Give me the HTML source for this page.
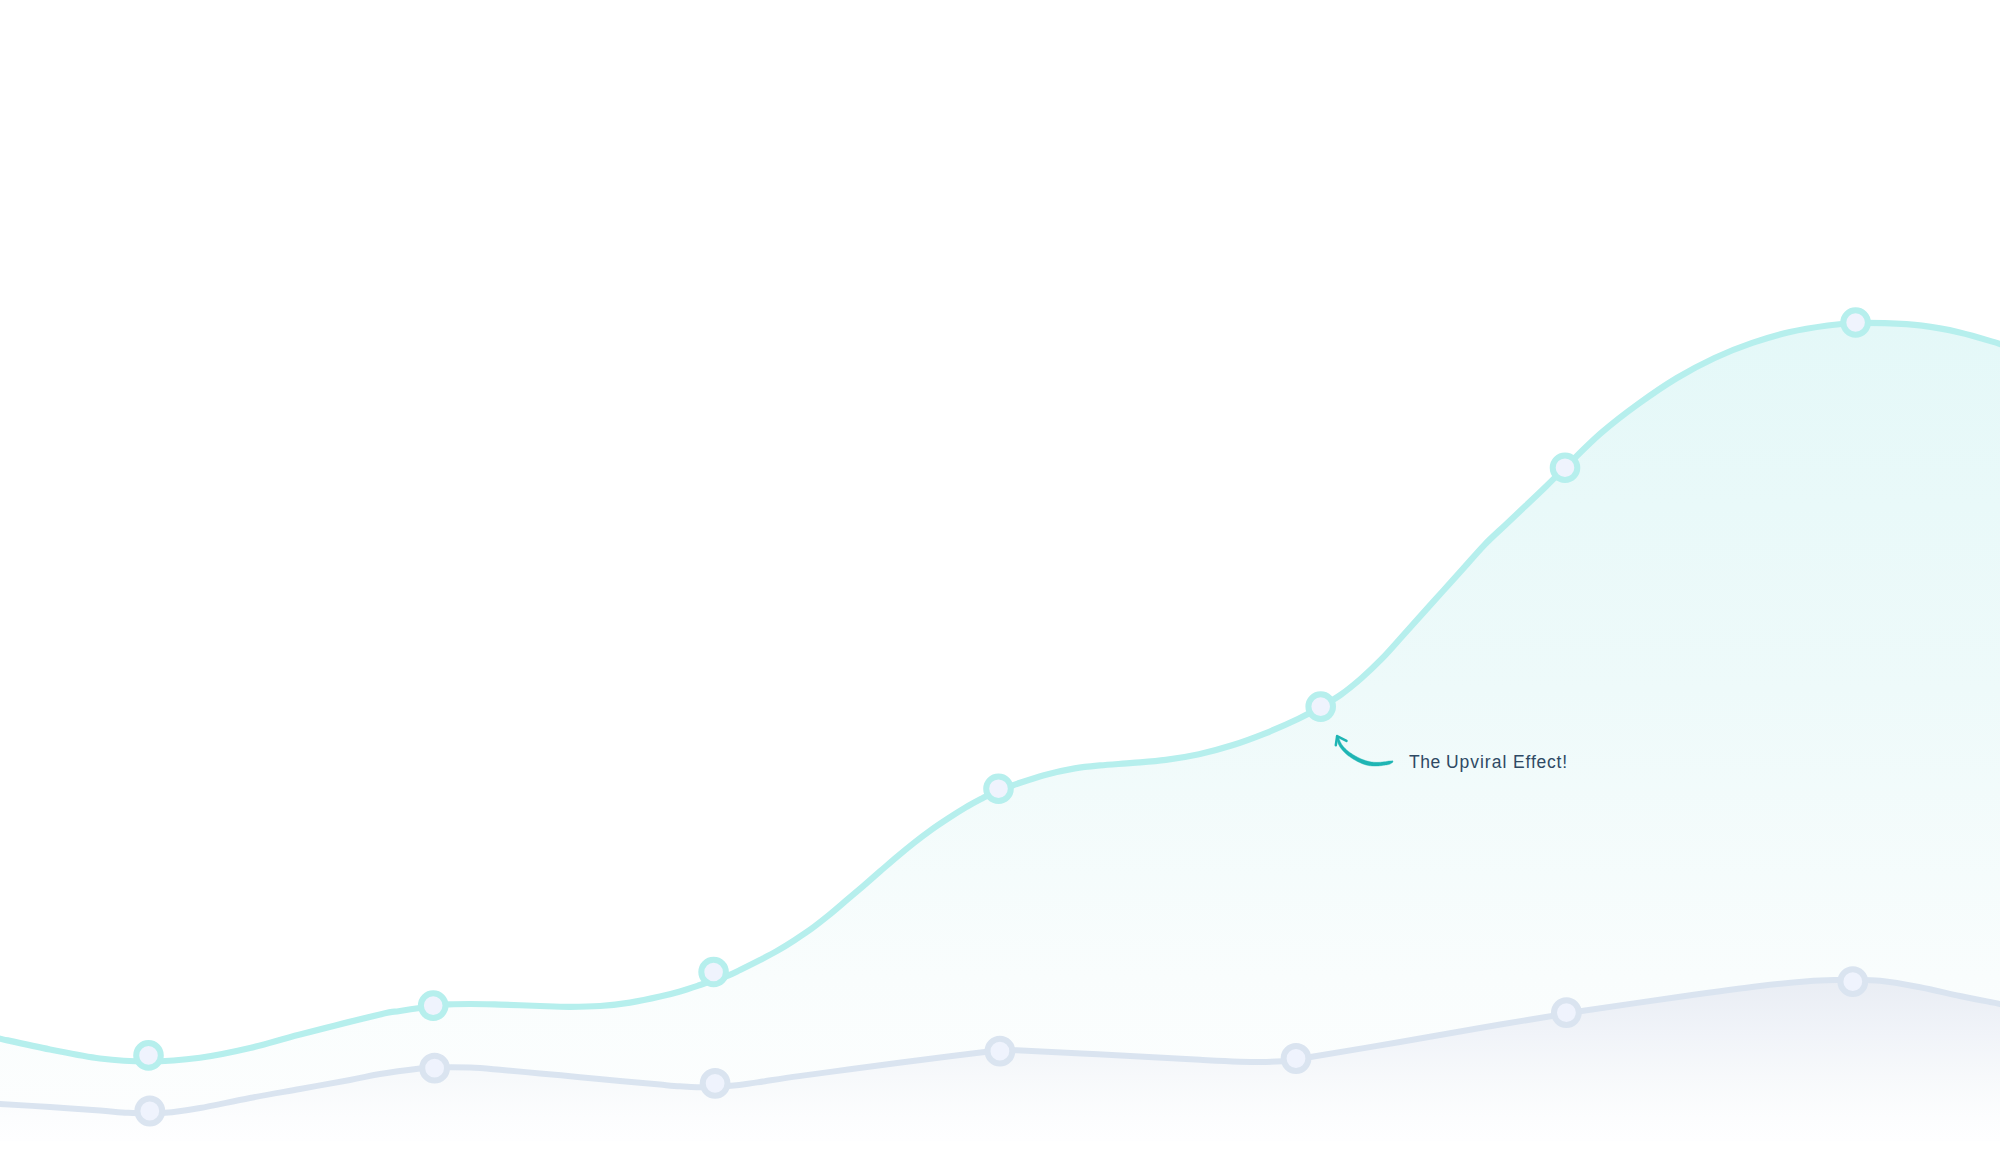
<!DOCTYPE html>
<html lang="en"><head><meta charset="utf-8"><title>The Upviral Effect</title>
<style>
html,body{margin:0;padding:0;background:#fff;}
body{width:2000px;height:1167px;position:relative;overflow:hidden;font-family:"Liberation Sans",sans-serif;}
.label{position:absolute;left:1409px;top:750px;font-size:17.5px;line-height:24px;color:#2e4964;white-space:pre;}
.label span{display:inline-block;white-space:pre;}
.w1{letter-spacing:0.48px;}.w2{letter-spacing:0.98px;}.w3{letter-spacing:0.78px;}
</style></head><body>
<svg width="2000" height="1141" viewBox="0 0 2000 1141" style="position:absolute;left:0;top:0;display:block">
<defs>
<linearGradient id="tg" gradientUnits="userSpaceOnUse" x1="0" y1="320" x2="0" y2="1141">
<stop offset="0" stop-color="#e4f8f8"/><stop offset="0.45" stop-color="#eefafa"/><stop offset="0.8" stop-color="#f9fdfd"/><stop offset="1" stop-color="#fdfefe"/>
</linearGradient>
<linearGradient id="gg" gradientUnits="userSpaceOnUse" x1="0" y1="980" x2="0" y2="1141">
<stop offset="0" stop-color="#e9edf4"/><stop offset="0.35" stop-color="#f1f4f9"/><stop offset="0.6" stop-color="#f7f9fb"/><stop offset="0.85" stop-color="#fcfdfe"/><stop offset="1" stop-color="#fefeff"/>
</linearGradient>
</defs>
<path d="M-10.0,1036.5 C-8.3,1036.9 -10.0,1036.5 0.0,1038.7 C10.0,1040.9 33.3,1046.2 50.0,1049.5 C66.7,1052.8 83.7,1056.5 100.0,1058.5 C116.3,1060.5 131.3,1061.6 148.0,1061.5 C164.7,1061.4 183.0,1060.0 200.0,1057.7 C217.0,1055.5 233.3,1051.9 250.0,1048.0 C266.7,1044.1 278.3,1040.1 300.0,1034.5 C321.7,1028.9 363.3,1018.3 380.0,1014.4 C396.7,1010.5 391.2,1012.4 400.0,1011.0 C408.8,1009.6 424.8,1007.1 433.0,1006.0 C441.2,1004.9 442.8,1004.7 449.0,1004.4 C455.2,1004.1 461.5,1004.0 470.0,1004.0 C478.5,1004.0 488.3,1004.3 500.0,1004.6 C511.7,1004.9 528.3,1005.6 540.0,1006.0 C551.7,1006.4 560.0,1006.8 570.0,1006.8 C580.0,1006.8 590.0,1006.7 600.0,1006.0 C610.0,1005.3 620.0,1004.2 630.0,1002.6 C640.0,1001.0 651.7,998.5 660.0,996.6 C668.3,994.7 673.3,993.3 680.0,991.4 C686.7,989.5 694.3,986.9 700.0,985.0 C705.7,983.1 709.3,981.6 714.0,980.0 C718.7,978.4 723.7,977.3 728.0,975.6 C732.3,973.9 734.7,972.6 740.0,970.0 C745.3,967.4 753.8,963.2 760.0,960.0 C766.2,956.8 771.4,954.2 777.1,950.9 C782.8,947.6 788.6,944.0 794.3,940.3 C800.0,936.6 805.7,932.9 811.4,928.8 C817.1,924.6 822.9,920.0 828.6,915.4 C834.3,910.8 840.0,905.8 845.7,900.9 C851.4,896.0 857.2,891.2 862.9,886.3 C868.6,881.4 874.3,876.3 880.0,871.4 C885.7,866.5 891.5,861.4 897.2,856.6 C902.9,851.8 908.6,847.1 914.3,842.6 C920.0,838.1 925.7,833.8 931.4,829.7 C937.1,825.6 942.9,821.8 948.6,818.1 C954.3,814.4 960.0,810.8 965.7,807.4 C971.4,804.0 977.4,800.9 982.9,798.0 C988.4,795.1 993.5,792.4 998.5,790.3 C1003.5,788.2 1005.5,787.7 1013.1,785.2 C1020.7,782.7 1033.7,778.0 1044.0,775.2 C1054.3,772.4 1065.5,770.0 1074.8,768.4 C1084.1,766.8 1090.3,766.3 1100.0,765.4 C1109.7,764.5 1121.7,763.8 1132.7,762.9 C1143.7,762.0 1154.8,761.3 1165.8,759.9 C1176.8,758.5 1187.9,756.6 1199.0,754.2 C1210.1,751.8 1221.2,748.8 1232.2,745.3 C1243.2,741.8 1254.2,737.7 1265.3,733.3 C1276.3,728.9 1289.3,723.1 1298.5,718.7 C1307.7,714.3 1313.7,711.0 1320.7,707.0 C1327.7,703.0 1333.9,699.6 1340.6,694.9 C1347.3,690.1 1354.2,684.5 1361.1,678.5 C1367.9,672.5 1374.8,665.9 1381.7,658.9 C1388.6,651.9 1395.5,643.8 1402.3,636.2 C1409.1,628.6 1415.9,621.0 1422.8,613.4 C1429.7,605.8 1436.5,598.1 1443.4,590.5 C1450.3,582.9 1457.2,575.2 1464.0,567.6 C1470.8,560.0 1477.7,551.9 1484.5,544.8 C1491.3,537.7 1498.2,531.7 1505.1,525.2 C1512.0,518.7 1518.8,512.2 1525.7,505.7 C1532.6,499.2 1539.7,492.5 1546.2,486.2 C1552.8,479.9 1555.8,476.6 1565.0,467.7 C1574.2,458.8 1589.1,443.4 1601.5,432.7 C1613.9,422.0 1626.6,412.4 1639.2,403.3 C1651.8,394.2 1664.3,385.6 1676.9,378.0 C1689.5,370.4 1702.0,363.9 1714.6,358.0 C1727.2,352.1 1739.7,347.2 1752.3,342.9 C1764.9,338.6 1777.4,334.9 1790.0,332.0 C1802.6,329.1 1816.8,327.0 1827.7,325.5 C1838.6,324.0 1846.2,323.4 1855.6,323.0 C1865.0,322.6 1873.2,322.8 1884.2,323.2 C1895.2,323.6 1909.3,324.1 1921.9,325.7 C1934.5,327.2 1946.6,329.5 1959.6,332.5 C1972.6,335.5 1991.6,341.5 2000.0,343.9 C2008.4,346.3 2008.3,346.5 2010.0,347.0 L2010,1141 L-10,1141 Z" fill="url(#tg)"/>
<path d="M-10.0,1036.5 C-8.3,1036.9 -10.0,1036.5 0.0,1038.7 C10.0,1040.9 33.3,1046.2 50.0,1049.5 C66.7,1052.8 83.7,1056.5 100.0,1058.5 C116.3,1060.5 131.3,1061.6 148.0,1061.5 C164.7,1061.4 183.0,1060.0 200.0,1057.7 C217.0,1055.5 233.3,1051.9 250.0,1048.0 C266.7,1044.1 278.3,1040.1 300.0,1034.5 C321.7,1028.9 363.3,1018.3 380.0,1014.4 C396.7,1010.5 391.2,1012.4 400.0,1011.0 C408.8,1009.6 424.8,1007.1 433.0,1006.0 C441.2,1004.9 442.8,1004.7 449.0,1004.4 C455.2,1004.1 461.5,1004.0 470.0,1004.0 C478.5,1004.0 488.3,1004.3 500.0,1004.6 C511.7,1004.9 528.3,1005.6 540.0,1006.0 C551.7,1006.4 560.0,1006.8 570.0,1006.8 C580.0,1006.8 590.0,1006.7 600.0,1006.0 C610.0,1005.3 620.0,1004.2 630.0,1002.6 C640.0,1001.0 651.7,998.5 660.0,996.6 C668.3,994.7 673.3,993.3 680.0,991.4 C686.7,989.5 694.3,986.9 700.0,985.0 C705.7,983.1 709.3,981.6 714.0,980.0 C718.7,978.4 723.7,977.3 728.0,975.6 C732.3,973.9 734.7,972.6 740.0,970.0 C745.3,967.4 753.8,963.2 760.0,960.0 C766.2,956.8 771.4,954.2 777.1,950.9 C782.8,947.6 788.6,944.0 794.3,940.3 C800.0,936.6 805.7,932.9 811.4,928.8 C817.1,924.6 822.9,920.0 828.6,915.4 C834.3,910.8 840.0,905.8 845.7,900.9 C851.4,896.0 857.2,891.2 862.9,886.3 C868.6,881.4 874.3,876.3 880.0,871.4 C885.7,866.5 891.5,861.4 897.2,856.6 C902.9,851.8 908.6,847.1 914.3,842.6 C920.0,838.1 925.7,833.8 931.4,829.7 C937.1,825.6 942.9,821.8 948.6,818.1 C954.3,814.4 960.0,810.8 965.7,807.4 C971.4,804.0 977.4,800.9 982.9,798.0 C988.4,795.1 993.5,792.4 998.5,790.3 C1003.5,788.2 1005.5,787.7 1013.1,785.2 C1020.7,782.7 1033.7,778.0 1044.0,775.2 C1054.3,772.4 1065.5,770.0 1074.8,768.4 C1084.1,766.8 1090.3,766.3 1100.0,765.4 C1109.7,764.5 1121.7,763.8 1132.7,762.9 C1143.7,762.0 1154.8,761.3 1165.8,759.9 C1176.8,758.5 1187.9,756.6 1199.0,754.2 C1210.1,751.8 1221.2,748.8 1232.2,745.3 C1243.2,741.8 1254.2,737.7 1265.3,733.3 C1276.3,728.9 1289.3,723.1 1298.5,718.7 C1307.7,714.3 1313.7,711.0 1320.7,707.0 C1327.7,703.0 1333.9,699.6 1340.6,694.9 C1347.3,690.1 1354.2,684.5 1361.1,678.5 C1367.9,672.5 1374.8,665.9 1381.7,658.9 C1388.6,651.9 1395.5,643.8 1402.3,636.2 C1409.1,628.6 1415.9,621.0 1422.8,613.4 C1429.7,605.8 1436.5,598.1 1443.4,590.5 C1450.3,582.9 1457.2,575.2 1464.0,567.6 C1470.8,560.0 1477.7,551.9 1484.5,544.8 C1491.3,537.7 1498.2,531.7 1505.1,525.2 C1512.0,518.7 1518.8,512.2 1525.7,505.7 C1532.6,499.2 1539.7,492.5 1546.2,486.2 C1552.8,479.9 1555.8,476.6 1565.0,467.7 C1574.2,458.8 1589.1,443.4 1601.5,432.7 C1613.9,422.0 1626.6,412.4 1639.2,403.3 C1651.8,394.2 1664.3,385.6 1676.9,378.0 C1689.5,370.4 1702.0,363.9 1714.6,358.0 C1727.2,352.1 1739.7,347.2 1752.3,342.9 C1764.9,338.6 1777.4,334.9 1790.0,332.0 C1802.6,329.1 1816.8,327.0 1827.7,325.5 C1838.6,324.0 1846.2,323.4 1855.6,323.0 C1865.0,322.6 1873.2,322.8 1884.2,323.2 C1895.2,323.6 1909.3,324.1 1921.9,325.7 C1934.5,327.2 1946.6,329.5 1959.6,332.5 C1972.6,335.5 1991.6,341.5 2000.0,343.9 C2008.4,346.3 2008.3,346.5 2010.0,347.0" fill="none" stroke="#b6efed" stroke-width="6.2" stroke-linecap="round" stroke-linejoin="round"/>
<path d="M-10.0,1103.5 C-8.3,1103.6 -10.0,1103.4 0.0,1104.0 C10.0,1104.6 33.3,1105.9 50.0,1107.0 C66.7,1108.1 87.0,1109.6 100.0,1110.6 C113.0,1111.6 119.7,1112.3 128.0,1112.8 C136.3,1113.3 142.7,1113.5 150.0,1113.4 C157.3,1113.3 163.7,1113.1 172.0,1112.2 C180.3,1111.3 187.0,1110.4 200.0,1108.0 C213.0,1105.6 233.3,1101.2 250.0,1098.0 C266.7,1094.8 283.3,1092.0 300.0,1089.0 C316.7,1086.0 336.7,1082.5 350.0,1080.0 C363.3,1077.5 368.3,1075.9 380.0,1074.0 C391.7,1072.1 410.9,1069.6 420.0,1068.5 C429.1,1067.4 426.3,1067.7 434.6,1067.5 C442.9,1067.3 459.1,1067.2 470.0,1067.6 C480.9,1068.0 488.3,1068.8 500.0,1069.8 C511.7,1070.8 526.7,1072.2 540.0,1073.4 C553.3,1074.6 566.7,1075.9 580.0,1077.2 C593.3,1078.5 606.7,1079.8 620.0,1081.0 C633.3,1082.2 650.0,1083.7 660.0,1084.6 C670.0,1085.5 673.8,1085.9 680.0,1086.3 C686.2,1086.7 691.2,1087.1 697.0,1087.2 C702.8,1087.3 709.3,1087.2 715.0,1087.0 C720.7,1086.8 725.5,1086.3 731.0,1085.8 C736.5,1085.3 742.3,1084.6 748.0,1083.8 C753.7,1083.0 756.5,1082.5 765.0,1081.2 C773.5,1079.9 784.8,1078.1 799.0,1076.1 C813.2,1074.1 833.0,1071.6 850.0,1069.3 C867.0,1067.0 884.0,1064.7 901.0,1062.5 C918.0,1060.3 938.4,1057.7 952.0,1056.0 C965.6,1054.3 974.6,1053.2 982.6,1052.3 C990.6,1051.4 994.3,1051.1 1000.0,1050.8 C1005.7,1050.5 1000.3,1049.7 1016.6,1050.3 C1032.9,1050.9 1067.4,1052.7 1098.0,1054.3 C1128.6,1055.9 1173.0,1058.5 1200.0,1059.8 C1227.0,1061.1 1244.0,1062.0 1260.0,1062.0 C1276.0,1062.0 1287.3,1060.9 1296.0,1060.0 C1304.7,1059.1 1294.7,1059.8 1312.0,1056.8 C1329.3,1053.8 1372.0,1046.8 1400.0,1042.0 C1428.0,1037.2 1454.7,1032.3 1480.0,1028.0 C1505.3,1023.7 1535.3,1018.8 1552.0,1016.0 C1568.7,1013.2 1558.7,1014.4 1580.0,1011.2 C1601.3,1008.0 1650.0,1001.0 1680.0,996.8 C1710.0,992.6 1738.7,988.6 1760.0,986.0 C1781.3,983.4 1794.7,982.2 1808.0,981.2 C1821.3,980.2 1832.5,980.2 1840.0,980.0 C1847.5,979.8 1846.1,979.9 1852.8,980.0 C1859.5,980.1 1868.8,979.6 1880.0,980.8 C1891.2,982.0 1906.7,984.7 1920.0,987.2 C1933.3,989.7 1946.7,993.2 1960.0,996.0 C1973.3,998.8 1991.7,1002.3 2000.0,1004.0 C2008.3,1005.7 2008.3,1005.7 2010.0,1006.0 L2010,1141 L-10,1141 Z" fill="url(#gg)"/>
<path d="M-10.0,1103.5 C-8.3,1103.6 -10.0,1103.4 0.0,1104.0 C10.0,1104.6 33.3,1105.9 50.0,1107.0 C66.7,1108.1 87.0,1109.6 100.0,1110.6 C113.0,1111.6 119.7,1112.3 128.0,1112.8 C136.3,1113.3 142.7,1113.5 150.0,1113.4 C157.3,1113.3 163.7,1113.1 172.0,1112.2 C180.3,1111.3 187.0,1110.4 200.0,1108.0 C213.0,1105.6 233.3,1101.2 250.0,1098.0 C266.7,1094.8 283.3,1092.0 300.0,1089.0 C316.7,1086.0 336.7,1082.5 350.0,1080.0 C363.3,1077.5 368.3,1075.9 380.0,1074.0 C391.7,1072.1 410.9,1069.6 420.0,1068.5 C429.1,1067.4 426.3,1067.7 434.6,1067.5 C442.9,1067.3 459.1,1067.2 470.0,1067.6 C480.9,1068.0 488.3,1068.8 500.0,1069.8 C511.7,1070.8 526.7,1072.2 540.0,1073.4 C553.3,1074.6 566.7,1075.9 580.0,1077.2 C593.3,1078.5 606.7,1079.8 620.0,1081.0 C633.3,1082.2 650.0,1083.7 660.0,1084.6 C670.0,1085.5 673.8,1085.9 680.0,1086.3 C686.2,1086.7 691.2,1087.1 697.0,1087.2 C702.8,1087.3 709.3,1087.2 715.0,1087.0 C720.7,1086.8 725.5,1086.3 731.0,1085.8 C736.5,1085.3 742.3,1084.6 748.0,1083.8 C753.7,1083.0 756.5,1082.5 765.0,1081.2 C773.5,1079.9 784.8,1078.1 799.0,1076.1 C813.2,1074.1 833.0,1071.6 850.0,1069.3 C867.0,1067.0 884.0,1064.7 901.0,1062.5 C918.0,1060.3 938.4,1057.7 952.0,1056.0 C965.6,1054.3 974.6,1053.2 982.6,1052.3 C990.6,1051.4 994.3,1051.1 1000.0,1050.8 C1005.7,1050.5 1000.3,1049.7 1016.6,1050.3 C1032.9,1050.9 1067.4,1052.7 1098.0,1054.3 C1128.6,1055.9 1173.0,1058.5 1200.0,1059.8 C1227.0,1061.1 1244.0,1062.0 1260.0,1062.0 C1276.0,1062.0 1287.3,1060.9 1296.0,1060.0 C1304.7,1059.1 1294.7,1059.8 1312.0,1056.8 C1329.3,1053.8 1372.0,1046.8 1400.0,1042.0 C1428.0,1037.2 1454.7,1032.3 1480.0,1028.0 C1505.3,1023.7 1535.3,1018.8 1552.0,1016.0 C1568.7,1013.2 1558.7,1014.4 1580.0,1011.2 C1601.3,1008.0 1650.0,1001.0 1680.0,996.8 C1710.0,992.6 1738.7,988.6 1760.0,986.0 C1781.3,983.4 1794.7,982.2 1808.0,981.2 C1821.3,980.2 1832.5,980.2 1840.0,980.0 C1847.5,979.8 1846.1,979.9 1852.8,980.0 C1859.5,980.1 1868.8,979.6 1880.0,980.8 C1891.2,982.0 1906.7,984.7 1920.0,987.2 C1933.3,989.7 1946.7,993.2 1960.0,996.0 C1973.3,998.8 1991.7,1002.3 2000.0,1004.0 C2008.3,1005.7 2008.3,1005.7 2010.0,1006.0" fill="none" stroke="#dae4f0" stroke-width="6" stroke-linecap="round" stroke-linejoin="round"/>
<g fill="#eff3fd" stroke="#b6efed" stroke-width="6">
<circle cx="148.5" cy="1055.4" r="12.3"/>
<circle cx="433.2" cy="1005.6" r="12.3"/>
<circle cx="713.6" cy="972" r="12.3"/>
<circle cx="998.5" cy="788.7" r="12.3"/>
<circle cx="1320.7" cy="706.6" r="12.3"/>
<circle cx="1565" cy="467.7" r="12.3"/>
<circle cx="1855.6" cy="322.5" r="12.3"/>
</g>
<g fill="#eff3fd" stroke="#dae4f0" stroke-width="6">
<circle cx="149.8" cy="1111" r="12.4"/>
<circle cx="434.6" cy="1068.2" r="12.4"/>
<circle cx="715.1" cy="1083.3" r="12.4"/>
<circle cx="999.9" cy="1051.2" r="12.4"/>
<circle cx="1296" cy="1058.5" r="12.4"/>
<circle cx="1566.4" cy="1012.6" r="12.4"/>
<circle cx="1852.8" cy="981.7" r="12.4"/>
</g>
<path d="M1336.25,736.48 L1336.40,737.08 L1336.60,737.90 L1336.83,738.89 L1337.10,739.98 L1337.41,741.14 L1337.75,742.30 L1338.13,743.42 L1338.55,744.43 L1339.00,745.33 L1339.46,746.18 L1339.96,747.00 L1340.50,747.79 L1341.06,748.56 L1341.65,749.31 L1342.28,750.05 L1342.94,750.80 L1343.64,751.55 L1344.36,752.29 L1345.12,753.03 L1345.92,753.75 L1346.75,754.47 L1347.62,755.18 L1348.53,755.88 L1349.48,756.58 L1350.49,757.29 L1351.56,758.00 L1352.67,758.72 L1353.82,759.42 L1354.99,760.11 L1356.16,760.77 L1357.33,761.39 L1358.46,761.96 L1359.57,762.49 L1360.67,762.99 L1361.76,763.47 L1362.86,763.91 L1363.97,764.32 L1365.08,764.68 L1366.20,765.01 L1367.33,765.30 L1368.48,765.53 L1369.62,765.71 L1370.77,765.85 L1371.90,765.95 L1373.03,766.01 L1374.16,766.05 L1375.28,766.06 L1376.40,766.05 L1377.57,766.01 L1378.77,765.92 L1379.98,765.80 L1381.16,765.66 L1382.30,765.51 L1383.37,765.36 L1384.35,765.21 L1385.22,765.09 L1385.98,764.98 L1386.65,764.88 L1387.25,764.79 L1387.79,764.70 L1388.29,764.59 L1388.76,764.47 L1389.22,764.33 L1389.71,764.15 L1390.23,763.91 L1390.75,763.62 L1391.26,763.31 L1391.73,762.98 L1392.16,762.67 L1392.54,762.38 L1392.86,762.14 L1393.10,761.97 L1392.70,760.83 L1392.40,760.85 L1392.00,760.87 L1391.52,760.89 L1391.01,760.92 L1390.46,760.95 L1389.91,760.98 L1389.39,761.01 L1388.89,761.05 L1388.43,761.11 L1387.99,761.19 L1387.57,761.27 L1387.14,761.35 L1386.67,761.44 L1386.14,761.54 L1385.52,761.63 L1384.78,761.71 L1383.91,761.81 L1382.93,761.92 L1381.88,762.04 L1380.78,762.15 L1379.65,762.24 L1378.53,762.32 L1377.44,762.35 L1376.40,762.35 L1375.37,762.31 L1374.34,762.24 L1373.31,762.15 L1372.28,762.04 L1371.27,761.89 L1370.26,761.73 L1369.26,761.53 L1368.27,761.30 L1367.27,761.05 L1366.27,760.77 L1365.27,760.46 L1364.26,760.12 L1363.25,759.74 L1362.22,759.34 L1361.19,758.91 L1360.14,758.44 L1359.07,757.93 L1357.96,757.38 L1356.84,756.79 L1355.71,756.17 L1354.60,755.53 L1353.52,754.89 L1352.49,754.24 L1351.52,753.62 L1350.61,753.00 L1349.74,752.39 L1348.91,751.77 L1348.12,751.15 L1347.36,750.52 L1346.63,749.89 L1345.93,749.25 L1345.26,748.60 L1344.62,747.94 L1344.03,747.29 L1343.47,746.64 L1342.94,745.99 L1342.44,745.32 L1341.96,744.63 L1341.50,743.91 L1341.05,743.17 L1340.60,742.34 L1340.15,741.38 L1339.70,740.34 L1339.26,739.28 L1338.86,738.25 L1338.50,737.31 L1338.19,736.51 L1337.95,735.92 Z" fill="#1fb5b4" stroke="#1fb5b4" stroke-width="0.4" stroke-linejoin="round"/>
<path d="M1335.8,745.2 L1337.1,736.1 L1346.5,740.9" fill="none" stroke="#1fb5b4" stroke-width="2.5" stroke-linecap="round" stroke-linejoin="round"/>
</svg>
<div class="label"><span class="w1">The </span><span class="w2">Upviral </span><span class="w3">Effect!</span></div>
</body></html>
